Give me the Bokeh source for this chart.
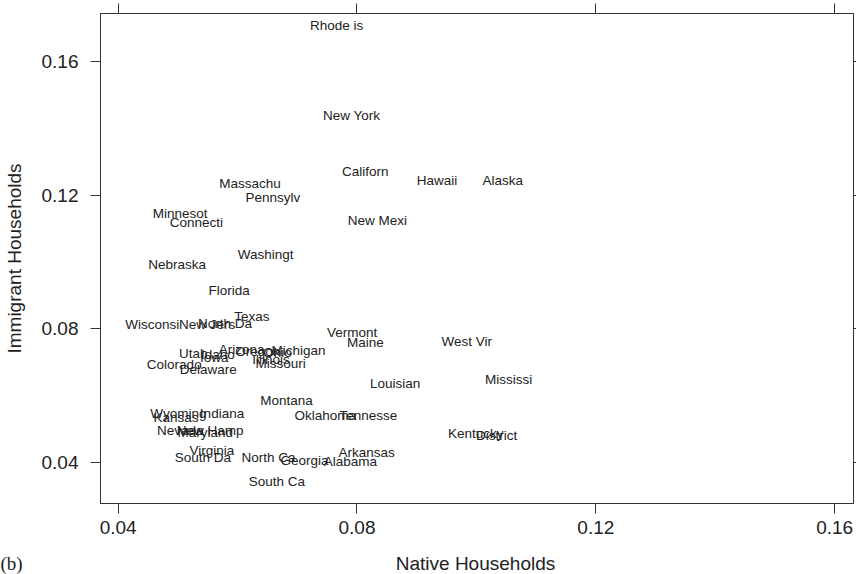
from bokeh.plotting import figure
from bokeh.layouts import column
from bokeh.models import ColumnDataSource, FixedTicker, LinearAxis, Range1d, Label
from bokeh.embed import file_html
from bokeh.resources import INLINE
from bokeh.core.properties import value

# State labels (abbreviated to 8 characters) and household proportions
states = [
    "Rhode is", "New York", "Californ", "Hawaii", "Alaska", "Massachu", "Pennsylv",
    "Minnesot", "Connecti", "New Mexi", "Washingt", "Nebraska", "Florida", "Texas",
    "Wisconsi", "New Jers", "North Da", "Vermont", "Maine", "West Vir", "Utah",
    "Idaho", "Iowa", "Arizona", "Oregon", "Ohio", "Michigan", "Illinois", "Missouri",
    "Colorado", "Delaware", "Louisian", "Mississi", "Montana", "Wyoming", "Kansas",
    "Indiana", "Oklahoma", "Tennesse", "Nevada", "New Hamp", "Maryland", "Kentucky",
    "District", "Virginia", "South Da", "North Ca", "Georgia", "Alabama", "Arkansas",
    "South Ca",
]
native = [
    0.0766, 0.0791, 0.0814, 0.0934, 0.1044, 0.0621, 0.0659,
    0.0504, 0.0531, 0.0834, 0.0647, 0.0499, 0.0586, 0.0624,
    0.0457, 0.0549, 0.0579, 0.0792, 0.0814, 0.0984, 0.0526,
    0.0567, 0.0561, 0.0607, 0.0634, 0.0667, 0.0702, 0.0656, 0.0672,
    0.0494, 0.0551, 0.0864, 0.1054, 0.0682, 0.0501, 0.0497,
    0.0574, 0.0747, 0.0819, 0.0504, 0.0554, 0.0546, 0.0999,
    0.1034, 0.0557, 0.0542, 0.0652, 0.0712, 0.0789, 0.0816,
    0.0666,
]
immigrant = [
    0.1708, 0.1438, 0.1271, 0.1244, 0.1244, 0.1235, 0.1193,
    0.1145, 0.1118, 0.1124, 0.1022, 0.0993, 0.0915, 0.0837,
    0.0813, 0.0813, 0.0816, 0.0789, 0.0759, 0.0762, 0.0726,
    0.0723, 0.0714, 0.0738, 0.0732, 0.0729, 0.0735, 0.0708, 0.0696,
    0.0693, 0.0678, 0.0637, 0.0648, 0.0586, 0.0547, 0.0535,
    0.0547, 0.0541, 0.0541, 0.0496, 0.0496, 0.0490, 0.0487,
    0.0481, 0.0436, 0.0415, 0.0415, 0.0406, 0.0403, 0.0430,
    0.0343,
]
ticks = [0.04, 0.08, 0.12, 0.16]

FONT = "Liberation Sans"
INK = "#222222"
FRAME = "#333333"

src = ColumnDataSource(dict(state=states, native=native, immigrant=immigrant))

# main panel: labelled scatter inside a boxed frame
p = figure(
    width=856, height=545, output_backend="svg", toolbar_location=None,
    x_range=Range1d(0.03705, 0.16315), y_range=Range1d(0.02774, 0.17436),
    min_border_left=97, min_border_right=3, min_border_top=13, min_border_bottom=42,
    y_axis_label="Immigrant Households", frame_align=False,
)
p.background_fill_color = "white"
p.border_fill_color = "white"
p.outline_line_color = FRAME
p.outline_line_width = 1
p.outline_line_alpha = 1.0
p.xgrid.visible = False
p.ygrid.visible = False

bottom_axis = p.below[0]
left_axis = p.left[0]

# tick-only axes on top and right
top_axis = LinearAxis()
right_axis = LinearAxis()
p.add_layout(top_axis, "above")
p.add_layout(right_axis, "right")

for ax in [bottom_axis, left_axis, top_axis, right_axis]:
    ax.ticker = FixedTicker(ticks=ticks)
    ax.major_tick_in = 0
    ax.major_tick_out = 10
    ax.major_tick_line_color = FRAME
    ax.minor_tick_line_color = None
    ax.axis_line_color = FRAME
    ax.major_label_text_font = FONT
    ax.major_label_text_color = INK
    ax.major_label_text_font_size = "19px"
    ax.axis_label_text_font = FONT
    ax.axis_label_text_font_style = "normal"
    ax.axis_label_text_color = INK
    ax.axis_label_text_font_size = "19px"

for ax in [top_axis, right_axis]:
    ax.major_label_overrides = {t: "" for t in ticks}
    ax.major_label_standoff = 0
right_axis.major_tick_out = 3

bottom_axis.major_label_standoff = 7
left_axis.major_label_standoff = 12
left_axis.axis_label_standoff = 14

p.text(
    x="native", y="immigrant", text="state", source=src,
    text_align="center", text_baseline="middle",
    text_font=value(FONT), text_font_size="13.5px", text_color=INK,
)

# caption strip: panel tag and x-axis title
cap = figure(
    width=856, height=29, output_backend="svg", toolbar_location=None,
    x_axis_location=None, y_axis_location=None,
    x_range=Range1d(0, 1), y_range=Range1d(0, 1),
    min_border_left=0, min_border_right=0, min_border_top=0, min_border_bottom=0,
    frame_align=False,
)
cap.outline_line_color = None
cap.background_fill_color = "white"
cap.border_fill_color = "white"
cap.xgrid.visible = False
cap.ygrid.visible = False

cap.add_layout(Label(
    x=0, y=11, x_units="screen", y_units="screen", text="(b)",
    text_font="Liberation Serif", text_font_size="19px", text_color=INK,
    text_baseline="middle", text_align="left",
))
cap.add_layout(Label(
    x=475, y=11, x_units="screen", y_units="screen", text="Native Households",
    text_font=FONT, text_font_size="19px", text_color=INK,
    text_baseline="middle", text_align="center",
))

layout = column(p, cap, spacing=0)
open("out.html", "w").write(file_html(layout, INLINE))
